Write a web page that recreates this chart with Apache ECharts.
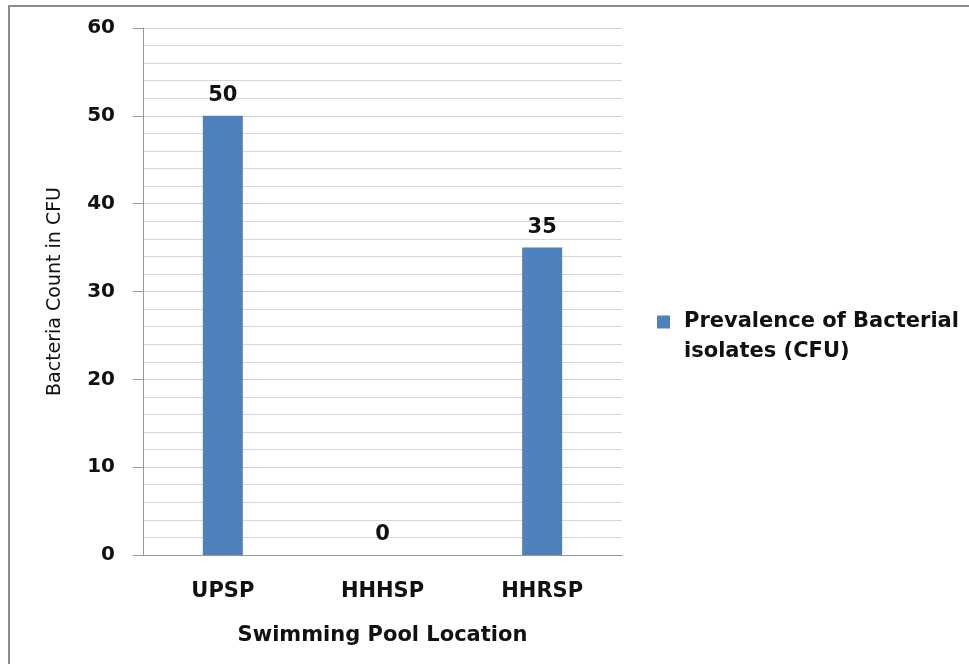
<!DOCTYPE html>
<html>
<head>
<meta charset="utf-8">
<script src="https://cdn.jsdelivr.net/npm/echarts@6/dist/echarts.min.js"></script>
<style>
html,body{margin:0;padding:0;background:#fff;overflow:hidden;}
#frame{position:absolute;left:8px;top:5px;width:1000px;height:700px;border-left:2px solid #8c8c8c;border-top:2px solid #8c8c8c;}
#chart{position:absolute;left:0;top:0;width:969px;height:664px;}
</style>
</head>
<body>
<div id="frame"></div>
<div id="chart"></div>
<script>
const categories = ['UPSP', 'HHHSP', 'HHRSP'];
const seriesName = 'Prevalence of Bacterial\nisolates (CFU)';
const values = [50, 0, 35];
const yTicks = { min: 0, max: 60, interval: 10 };

const FONT = '"DejaVu Sans", "Open Sans", sans-serif';
const chart = echarts.init(document.getElementById('chart'), null, { renderer: 'canvas' });
chart.setOption({
  animation: false,
  backgroundColor: 'transparent',
  textStyle: { fontFamily: FONT },
  grid: { left: 143, right: 347, top: 28, bottom: 109 },
  legend: {
    show: true,
    left: 652,
    top: 302,
    orient: 'vertical',
    itemWidth: 22,
    itemHeight: 43,
    icon: 'path://M0,0h13v13h-13z M22,43h0.01v0.01h-0.01z',
    textStyle: { fontSize: 21, fontWeight: 'bold', color: '#111', fontFamily: FONT, lineHeight: 30 },
    data: [seriesName]
  },
  xAxis: {
    type: 'category',
    data: categories,
    name: 'Swimming Pool Location',
    nameLocation: 'middle',
    nameGap: 70,
    nameTextStyle: { fontSize: 21, fontWeight: 'bold', color: '#111', fontFamily: FONT },
    axisLine: { show: true, lineStyle: { color: '#999', width: 1 } },
    axisTick: { show: false },
    axisLabel: { fontSize: 21, fontWeight: 'bold', color: '#111', margin: 26, fontFamily: FONT },
    splitLine: { show: false }
  },
  yAxis: {
    type: 'value',
    min: yTicks.min,
    max: yTicks.max,
    interval: yTicks.interval,
    name: 'Bacteria Count in CFU',
    nameLocation: 'middle',
    nameGap: 78,
    nameRotate: 90,
    nameTextStyle: { fontSize: 19, color: '#111', fontFamily: FONT },
    axisLine: { show: true, lineStyle: { color: '#999', width: 1 } },
    axisTick: { show: true, length: 10, lineStyle: { color: '#999' } },
    axisLabel: { fontSize: 20, fontWeight: 'bold', color: '#111', margin: 28, fontFamily: FONT },
    splitLine: { show: true, lineStyle: { color: '#cfcfcf', width: 1 } },
    minorTick: { show: false, splitNumber: 5 },
    minorSplitLine: { show: true, lineStyle: { color: '#d6d6d6', width: 1 } }
  },
  series: [{
    name: seriesName,
    type: 'bar',
    data: values,
    barWidth: 40,
    itemStyle: { color: '#4f81bd' },
    label: {
      show: true,
      position: 'top',
      distance: 10,
      fontSize: 21,
      fontWeight: 'bold',
      color: '#111',
      fontFamily: FONT
    }
  }]
});
</script>
</body>
</html>
